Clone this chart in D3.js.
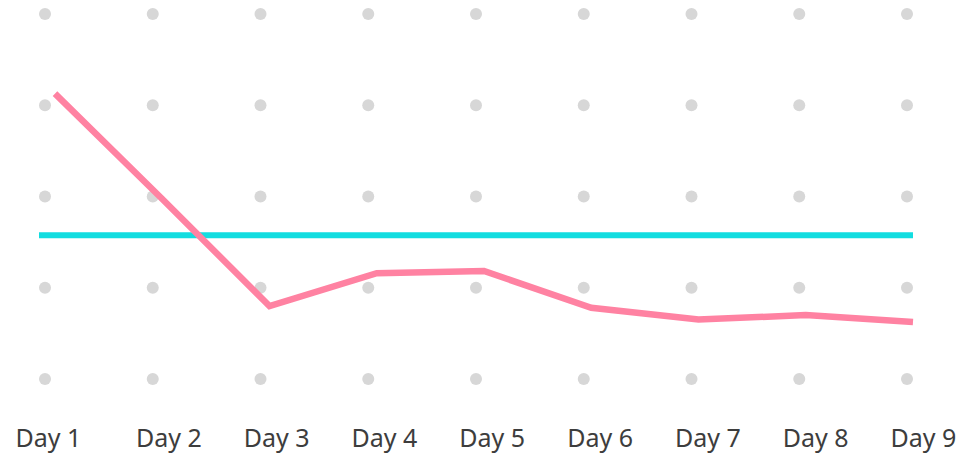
<!DOCTYPE html>
<html>
<head>
<meta charset="utf-8">
<script src="https://cdn.jsdelivr.net/npm/d3@7"></script>
<style>
  html, body { margin: 0; padding: 0; background: #ffffff; }
  svg { display: block; }
</style>
</head>
<body>
<svg id="chart" width="960" height="456"></svg>
<script>
// ---- data ----
const categories = ["Day 1", "Day 2", "Day 3", "Day 4", "Day 5", "Day 6", "Day 7", "Day 8", "Day 9"];
const values = [78.2, 49.3, 20, 29, 29.6, 19.5, 16.3, 17.5, 15.6];
const targetValue = 39.4;
const gridValues = [0, 25, 50, 75, 100];

// ---- layout ----
const svg = d3.select("#chart");

const y = d3.scaleLinear().domain([0, 100]).range([379, 14]);
const xLine = d3.scalePoint().domain(categories).range([55, 913]);
const xDots = d3.scalePoint().domain(categories).range([45, 907]);
const xLabels = d3.scalePoint().domain(categories).range([60.5, 923]);
const labelPadLeft = 15;

// dot grid
const gridPts = [];
gridValues.forEach(v => categories.forEach(c => gridPts.push({c, v})));
svg.append("g").selectAll("circle")
  .data(gridPts).join("circle")
  .attr("cx", d => xDots(d.c))
  .attr("cy", d => y(d.v))
  .attr("r", 6)
  .attr("fill", "#d7d7d7");

// target line
svg.append("line")
  .attr("x1", 39).attr("x2", 913)
  .attr("y1", y(targetValue)).attr("y2", y(targetValue))
  .attr("stroke", "#12dde0")
  .attr("stroke-width", 6);

// series line
const line = d3.line()
  .x((d, i) => xLine(categories[i]))
  .y(d => y(d));
svg.append("path")
  .datum(values)
  .attr("d", line)
  .attr("fill", "none")
  .attr("stroke", "#ff82a2")
  .attr("stroke-width", 6.5)
  .attr("stroke-linejoin", "miter")
  .attr("stroke-linecap", "butt");

// x labels
const xAxis = d3.axisBottom(xLabels).tickSize(0).tickPadding(0);
const gx = svg.append("g").attr("transform", "translate(0,429)").call(xAxis);
gx.select(".domain").remove();
gx.selectAll("text")
  .attr("dy", 0)
  .attr("y", 18)
  .attr("fill", "#3d3d3d")
  .style("font-family", "'Noto Sans', 'Open Sans', sans-serif")
  .style("font-size", "25px");
// first label is left-aligned to the chart's left padding
gx.selectAll(".tick").filter(d => d === categories[0]).select("text")
  .attr("text-anchor", "start")
  .attr("x", labelPadLeft - xLabels(categories[0]));
</script>
</body>
</html>
